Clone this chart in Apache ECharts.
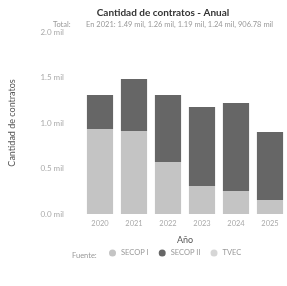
<!DOCTYPE html>
<html>
<head>
<meta charset="utf-8">
<script src="https://cdn.jsdelivr.net/npm/echarts@6/dist/echarts.min.js"></script>
<style>
	html, body { margin: 0; padding: 0; background: #fff; }
	#box { width: 287px; height: 286px; }
</style>
</head>
<body>
<div id="box"></div>
<script>
	// datos
	const years = ['2020', '2021', '2022', '2023', '2024', '2025'];
	const secop1 = [934, 912, 571, 308, 253, 154];
	const secop2 = [374, 572, 737, 868, 967, 747];
	const tvec = [0, 0, 0, 0, 0, 0];
	const yTicks = ['0.0 mil', '0.5 mil', '1.0 mil', '1.5 mil', '2.0 mil'];
	const seriesNames = ['SECOP I', 'SECOP II', 'TVEC'];

	var chartDom = document.getElementById('box');
	var myChart = echarts.init(chartDom);
	var font = 'Lato';

	var option = {
		animation: false,
		title: {
			text: 'Cantidad de contratos - Anual',
			subtext: 'Total:        En 2021: 1.49 mil, 1.26 mil, 1.19 mil, 1.24 mil, 906.78 mil',
			left: 158,
			textAlign: 'center',
			top: 3,
			itemGap: 3,
			textStyle: { fontFamily: font, fontSize: 10, fontWeight: 'bold', color: '#333' },
			subtextStyle: { fontFamily: font, fontSize: 7.5, color: '#999' }
		},
		legend: {
			data: seriesNames,
			bottom: 24,
			left: 104,
			itemWidth: 7,
			itemHeight: 7,
			itemGap: 10,
			icon: 'circle',
			textStyle: { fontFamily: font, fontSize: 7.5, color: '#999' }
		},
		graphic: [{
			type: 'text',
			left: 72,
			bottom: 26,
			style: { text: 'Fuente:', font: '7.5px Lato', fill: '#999' }
		}],
		grid: {
			left: 79,
			right: -3,
			top: 32,
			bottom: 72
		},
		xAxis: {
			type: 'category',
			data: years,
			name: 'Año',
			nameLocation: 'middle',
			nameGap: 22,
			nameTextStyle: { fontFamily: font, fontSize: 9, color: '#555' },
			axisLine: { show: false },
			axisTick: { show: false },
			axisLabel: { fontFamily: font, fontSize: 7.5, color: '#aaa', margin: 6 }
		},
		yAxis: {
			type: 'value',
			min: 0,
			max: 2000,
			interval: 500,
			name: 'Cantidad de contratos',
			nameLocation: 'middle',
			nameGap: 66,
			nameTextStyle: { fontFamily: font, fontSize: 9, color: '#555' },
			splitLine: { show: false },
			axisLabel: {
				fontFamily: font,
				fontSize: 8,
				color: '#aaa',
				margin: 19,
				formatter: function (v) { return yTicks[v / 500]; }
			}
		},
		series: [
			{ name: seriesNames[0], type: 'bar', stack: 'total', barWidth: '77%', data: secop1, itemStyle: { color: '#c4c4c4' } },
			{ name: seriesNames[1], type: 'bar', stack: 'total', barWidth: '77%', data: secop2, itemStyle: { color: '#666666' } },
			{ name: seriesNames[2], type: 'bar', stack: 'total', barWidth: '77%', data: tvec, itemStyle: { color: '#d6d6d6' } }
		]
	};

	myChart.setOption(option);
</script>
</body>
</html>
